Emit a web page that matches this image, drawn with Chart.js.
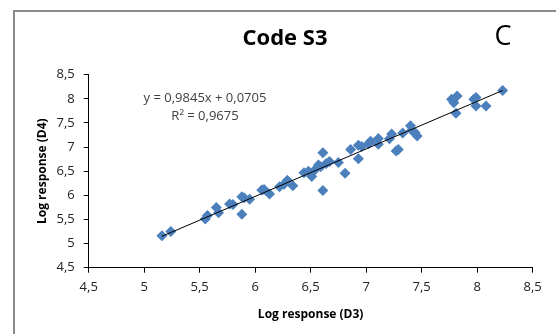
<!DOCTYPE html>
<html>
<head>
<meta charset="utf-8">
<script src="https://cdn.jsdelivr.net/npm/chart.js@4/dist/chart.umd.min.js"></script>
<style>
  html, body { margin: 0; padding: 0; background: #fff; }
  #wrap { position: relative; width: 556px; height: 334px; }
</style>
</head>
<body>
<div id="wrap"><canvas id="chart-s3" width="556" height="334"></canvas></div>
<script>
// Log response D3 (x) vs D4 (y)
const d3 = [5.16, 5.24, 5.55, 5.57, 5.65, 5.67, 5.77, 5.80, 5.88, 5.88, 5.90, 5.95,
    6.06, 6.08, 6.13, 6.22, 6.26, 6.29, 6.34, 6.44, 6.48, 6.51, 6.53, 6.57, 6.59,
    6.61, 6.61, 6.64, 6.67, 6.75, 6.81, 6.86, 6.93, 6.93, 6.96, 7.02, 7.04, 7.11,
    7.11, 7.21, 7.23, 7.27, 7.29, 7.33, 7.40, 7.41, 7.44, 7.46, 7.77, 7.79, 7.82,
    7.81, 7.97, 7.99, 7.99, 8.08, 8.23];
const d4 = [5.16, 5.25, 5.51, 5.58, 5.75, 5.64, 5.82, 5.81, 5.61, 5.97, 5.95, 5.92,
    6.11, 6.12, 6.03, 6.18, 6.23, 6.31, 6.20, 6.47, 6.50, 6.39, 6.51, 6.63, 6.59,
    6.88, 6.10, 6.66, 6.70, 6.68, 6.46, 6.95, 6.76, 7.04, 7.01, 7.07, 7.12, 7.06,
    7.18, 7.17, 7.27, 6.92, 6.95, 7.29, 7.44, 7.35, 7.30, 7.23, 7.99, 7.92, 8.06,
    7.70, 7.99, 8.03, 7.85, 7.85, 8.17];
const tickValues = [4.5, 5, 5.5, 6, 6.5, 7, 7.5, 8, 8.5];
const slope = 0.9845;
const intercept = 0.0705;
const equationText = 'y = 0,9845x + 0,0705';
const r2Text = 'R² = 0,9675';

const FONT = "'Open Sans', sans-serif";
const fmt = v => String(v).replace('.', ',');

const points = d3.map((x, i) => ({ x, y: d4[i] }));
const xMin = Math.min(...d3), xMax = Math.max(...d3);
const trend = [xMin, xMax].map(x => ({ x, y: slope * x + intercept }));

const frameAndText = {
    id: 'frameAndText',
    beforeDraw(chart) {
        const ctx = chart.ctx;
        ctx.save();
        ctx.strokeStyle = '#8c8c8c';
        ctx.lineWidth = 2;
        ctx.strokeRect(14, 11, 600, 400);
        ctx.restore();
    },
    afterDraw(chart) {
        const ctx = chart.ctx;
        ctx.save();
        ctx.textAlign = 'center';
        ctx.textBaseline = 'middle';
        ctx.fillStyle = '#000';
        ctx.font = `bold 22px ${FONT}`;
        ctx.fillText('Code S3', 285, 39);
        ctx.font = `27px ${FONT}`;
        ctx.fillText('C', 503, 37);
        ctx.fillStyle = '#404040';
        ctx.font = `13px ${FONT}`;
        ctx.fillText(equationText, 205, 98);
        ctx.fillText(r2Text, 205, 116);
        ctx.restore();
    }
};

new Chart(document.getElementById('chart-s3'), {
    type: 'scatter',
    data: {
        datasets: [{
            data: points,
            pointStyle: 'rectRot',
            pointRadius: 5.5,
            pointHoverRadius: 5.5,
            backgroundColor: '#4b80bd',
            borderColor: '#4b80bd',
            borderWidth: 0,
            order: 2,
        }, {
            type: 'line',
            data: trend,
            borderColor: '#000',
            borderWidth: 1,
            pointRadius: 0,
            fill: false,
            order: 1,
        }],
    },
    options: {
        responsive: false,
        animation: false,
        events: [],
        layout: { padding: { left: 0, right: 23.4, top: 74.7, bottom: 0 } },
        plugins: { legend: { display: false }, tooltip: { enabled: false } },
        scales: {
            x: {
                type: 'linear',
                min: 4.5,
                max: 8.5,
                afterBuildTicks: s => { s.ticks = tickValues.map(value => ({ value })); },
                afterFit: s => { s.height = 66.3; },
                grid: { drawOnChartArea: false, drawTicks: true, tickLength: 5, color: '#000' },
                border: { display: true, color: '#000', width: 1 },
                ticks: {
                    callback: v => fmt(v),
                    color: '#222',
                    font: { family: FONT, size: 13 },
                    padding: 7,
                    maxRotation: 0,
                },
                title: {
                    display: true,
                    text: 'Log response (D3)',
                    color: '#000',
                    font: { family: FONT, size: 12, weight: 'bold' },
                    padding: { top: 0, bottom: 12.5 },
                },
            },
            y: {
                type: 'linear',
                min: 4.5,
                max: 8.5,
                afterBuildTicks: s => { s.ticks = tickValues.map(value => ({ value })); },
                afterFit: s => { s.width = 88.7; },
                grid: { drawOnChartArea: false, drawTicks: true, tickLength: 5, color: '#000' },
                border: { display: true, color: '#000', width: 1 },
                ticks: {
                    callback: v => fmt(v),
                    color: '#222',
                    font: { family: FONT, size: 13 },
                    padding: 9,
                },
                title: {
                    display: true,
                    text: 'Log response (D4)',
                    color: '#000',
                    font: { family: FONT, size: 12, weight: 'bold' },
                    padding: { top: 35, bottom: 0 },
                },
            },
        },
    },
    plugins: [frameAndText],
});
</script>
</body>
</html>
